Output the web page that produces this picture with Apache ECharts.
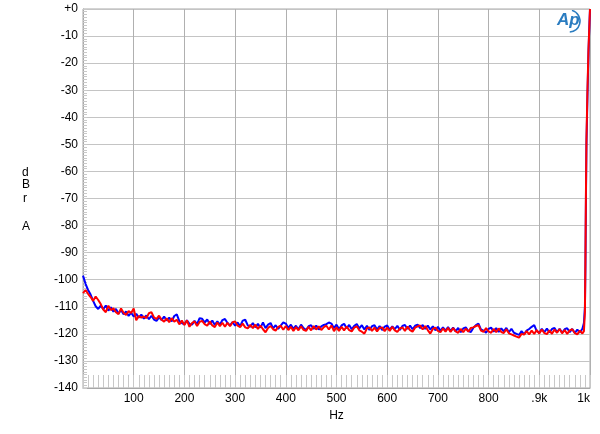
<!DOCTYPE html>
<html><head><meta charset="utf-8">
<script src="https://cdn.jsdelivr.net/npm/echarts@6/dist/echarts.min.js"></script>
<style>html,body{margin:0;padding:0;background:#fff}#c{width:600px;height:434px}</style>
</head><body><div id="c"></div>
<script>
const freqs = [0,5,10,15,20,25,30,35,40,45,50,55,60,65,70,75,80,85,90,95,100,105,110,115,120,125,130,135,140,145,150,155,160,165,170,175,180,185,190,195,200,205,210,215,220,225,230,235,240,245,250,255,260,265,270,275,280,285,290,295,300,305,310,315,320,325,330,335,340,345,350,355,360,365,370,375,380,385,390,395,400,405,410,415,420,425,430,435,440,445,450,455,460,465,470,475,480,485,490,495,500,505,510,515,520,525,530,535,540,545,550,555,560,565,570,575,580,585,590,595,600,605,610,615,620,625,630,635,640,645,650,655,660,665,670,675,680,685,690,695,700,705,710,715,720,725,730,735,740,745,750,755,760,765,770,775,780,785,790,795,800,805,810,815,820,825,830,835,840,845,850,855,860,865,870,875,880,885,890,895,900,905,910,915,920,925,930,935,940,945,950,955,960,965,970,975,980,985,988,990,991,992,993,995,997,999,1000];
const blue = [-98.5,-101.5,-103.8,-105.5,-107.8,-109.8,-110.8,-109.6,-110.9,-109.5,-111.4,-110.2,-111.8,-110.8,-112.5,-111.2,-112.8,-111.7,-113.4,-112.2,-113.6,-112.6,-114,-112.9,-114.4,-113.2,-114.6,-113.3,-114.7,-115.2,-113.9,-114.9,-113.6,-115.1,-114,-115.4,-113.4,-112.8,-115.3,-116,-116.5,-115,-116.3,-116.6,-115.2,-116.4,-114.2,-114.4,-115.8,-114.7,-116.4,-115.1,-116.7,-115.4,-116.6,-114.9,-114.5,-116,-116.9,-115.7,-117,-115.8,-117.2,-115.1,-114.8,-116.9,-117.4,-116,-117.6,-116.3,-117.7,-115.8,-117.9,-116.6,-116,-118,-116.8,-118.2,-117,-115.8,-116.2,-117.8,-116.6,-118.2,-117,-118.4,-116.6,-117.9,-118.6,-117.2,-116.8,-118.2,-116.9,-118.4,-117.2,-116.7,-116.4,-115.8,-116.2,-117.9,-116.6,-118.2,-116.9,-116.3,-117.9,-116.7,-118.3,-117,-116.4,-118,-116.8,-118.4,-117,-118.6,-117.2,-116.8,-118.4,-117.1,-118.6,-117.3,-116.9,-118.5,-117.2,-118.3,-117,-118.6,-117.1,-116.7,-118.2,-116.9,-118.3,-117,-116.6,-117.9,-116.7,-118.2,-116.9,-118.4,-117.2,-118.7,-117.4,-118.9,-117.6,-118.8,-117.5,-119,-117.7,-119.1,-117.8,-119.4,-118,-117.6,-119,-119.3,-117.7,-116.8,-116.2,-118.4,-118.8,-119.6,-118.2,-117.7,-119.2,-117.9,-119.3,-118,-119.1,-117.8,-119.4,-118.1,-119.6,-120,-120.4,-119,-120.2,-118.8,-118.2,-117.4,-116.8,-119,-119.6,-118.1,-119.4,-118,-119.5,-118.2,-117.8,-119.4,-118.1,-119.6,-118.3,-117.9,-119.4,-118.2,-119.7,-118.4,-119.5,-118.1,-116,-110,-95,-70,-50,-32,-16,-5,0];
const red = [-105,-103.8,-105.2,-106.4,-107.8,-106.2,-107.5,-109,-111,-112,-109.6,-111.2,-110.6,-112,-112.7,-110.6,-112.2,-113,-111.6,-112.3,-110.6,-115,-113.4,-114,-113.6,-114.2,-112.4,-112,-113.9,-114.5,-113.3,-114.8,-115.5,-114.3,-115.7,-114.2,-115.5,-114.8,-116.5,-115.1,-116.7,-115,-117.4,-116,-115.4,-117.1,-115.6,-115.2,-116.4,-117,-115.4,-116.9,-117.5,-115.8,-117.2,-115.9,-117.4,-115.9,-117.2,-115.7,-115.4,-117,-117.5,-116.2,-117.6,-118,-116.7,-117.9,-116.6,-118.2,-116.9,-118.3,-119.4,-117.8,-117.1,-118.3,-118.8,-117.4,-117,-118.5,-117.1,-118.6,-117.4,-118.9,-117.5,-118.7,-117.2,-118.5,-118.9,-117.4,-118.7,-117.1,-118.4,-117.2,-118.6,-117.5,-117,-118.4,-116.9,-119,-117.6,-118.9,-117.4,-118.7,-117.3,-118.6,-119.1,-117.7,-117.2,-118.7,-119.2,-119.9,-118,-117.6,-118.9,-117.7,-119.1,-117.8,-117.6,-119,-117.7,-118.9,-117.4,-118.7,-119.3,-118,-117.6,-118.9,-117.3,-118.6,-119.2,-117.7,-117.2,-116.9,-118.4,-117.1,-118.6,-119.9,-118.2,-117.7,-118.9,-119.4,-118,-119.2,-117.8,-119.3,-117.9,-119.1,-119.6,-118.2,-119.4,-118.1,-119.2,-117.8,-117.6,-117.1,-116.8,-118.8,-119.3,-117.9,-119.1,-119.6,-118.2,-119.4,-118,-119.3,-119.7,-118.3,-119.8,-120.2,-120.6,-121,-121.4,-120,-120.3,-119,-120.2,-118.8,-120,-118.6,-119.9,-118.4,-119.7,-120.1,-118.7,-120,-118.4,-119.6,-118.2,-119.8,-118.6,-120,-118.7,-118.3,-119.7,-120.2,-118.8,-119.9,-119,-112,-92,-68,-48,-30,-15,-5,0];
const yTicks = {min: -140, max: 0, interval: 10};
const xTicks = {min: 0, max: 1000, interval: 100};

const chart = echarts.init(document.getElementById('c'), null, {renderer: 'canvas'});
const pair = (ys) => freqs.map((f, i) => [f, ys[i]]);
const font = 'Arial, "Liberation Sans", sans-serif';
chart.setOption({
  animation: false,
  backgroundColor: '#fff',
  grid: {left: 83, right: 10, top: 9, bottom: 46, show: true, borderColor: '#a8a8a8', borderWidth: 1},
  xAxis: {
    type: 'value', min: xTicks.min, max: xTicks.max, interval: xTicks.interval,
    axisLine: {show: true, onZero: false, lineStyle: {color: '#a8a8a8'}},
    axisTick: {show: true, inside: true, length: 13, lineStyle: {color: '#c8c8c8'}},
    minorTick: {show: true, splitNumber: 10, length: 13, lineStyle: {color: '#c8c8c8'}},
    splitLine: {show: true, lineStyle: {color: '#b0b0b0', width: 1}},
    axisLabel: {color: '#000', fontFamily: font, fontSize: 12, margin: 5, alignMaxLabel: 'right',
      formatter: v => v === 0 ? '' : v === 900 ? '.9k' : v === 1000 ? '1k' : String(v)},
    name: 'Hz', nameLocation: 'middle', nameGap: 20,
    nameTextStyle: {color: '#000', fontFamily: font, fontSize: 12}
  },
  yAxis: {
    type: 'value', min: yTicks.min, max: yTicks.max, interval: yTicks.interval,
    axisLine: {show: true, onZero: false, lineStyle: {color: '#a8a8a8'}},
    axisTick: {show: true, inside: true, length: 4, lineStyle: {color: '#c8c8c8'}},
    minorTick: {show: true, splitNumber: 10, length: 4, lineStyle: {color: '#c8c8c8'}},
    splitLine: {show: true, lineStyle: {color: '#c4c4c4', width: 1}},
    axisLabel: {color: '#000', fontFamily: font, fontSize: 12, margin: 5,
      formatter: v => v === 0 ? '+0' : String(v)}
  },
  graphic: [
    {type: 'text', left: 22, top: 167, style: {text: 'd', fill: '#000', font: '12px ' + font}},
    {type: 'text', left: 22, top: 179, style: {text: 'B', fill: '#000', font: '12px ' + font}},
    {type: 'text', left: 23, top: 193, style: {text: 'r', fill: '#000', font: '12px ' + font}},
    {type: 'text', left: 22, top: 221, style: {text: 'A', fill: '#000', font: '12px ' + font}},
    {type: 'text', left: 557, top: 12, style: {text: 'Ap', fill: '#2a7cc0', font: 'italic bold 17px ' + font}},
    {type: 'arc', shape: {cx: 569, cy: 21, r: 11, startAngle: -1.3, endAngle: 1.5}, style: {stroke: '#2a7cc0', lineWidth: 1.5, fill: null}}
  ],
  series: [
    {type: 'line', data: pair(blue), showSymbol: false, symbol: 'none', lineStyle: {color: '#0000ff', width: 2}, z: 3},
    {type: 'line', data: pair(red), showSymbol: false, symbol: 'none', lineStyle: {color: '#ff0000', width: 2}, z: 4}
  ]
});
</script></body></html>
